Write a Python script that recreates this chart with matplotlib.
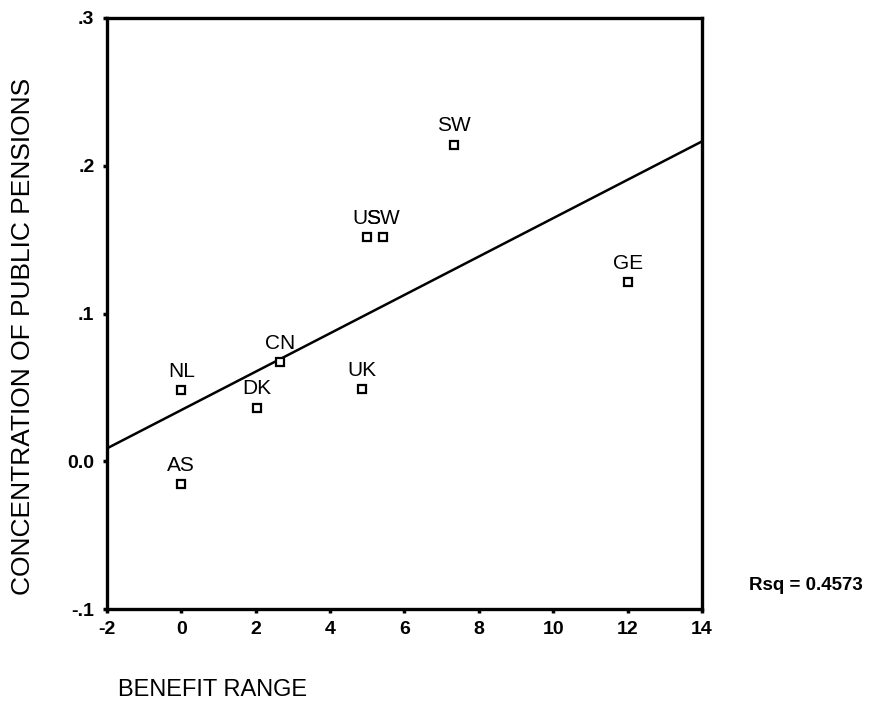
import numpy as np
import matplotlib.pyplot as plt
from matplotlib.ticker import FixedLocator, FixedFormatter

plt.rcParams['font.family'] = ['Liberation Sans', 'DejaVu Sans']
plt.rcParams['axes.unicode_minus'] = False

# ========== data ==========
countries = ['NL', 'AS', 'DK', 'CN', 'UK', 'US', 'SW', 'SW', 'GE']
benefit_range = [0.0, 0.0, 2.03, 2.65, 4.85, 4.99, 5.42, 7.33, 12.0]
concentration = [0.048, -0.0156, 0.0359, 0.067, 0.0487, 0.1516, 0.1516, 0.2139, 0.121]

x_ticks = [-2, 0, 2, 4, 6, 8, 10, 12, 14]
y_ticks = [-0.1, 0.0, 0.1, 0.2, 0.3]
y_tick_labels = ['-.1', '0.0', '.1', '.2', '.3']
rsq_text = 'Rsq = 0.4573'

x = np.array(benefit_range)
y = np.array(concentration)

# least squares fit line
slope, intercept = np.polyfit(x, y, 1)
xx = np.array([-2, 14])

fig = plt.figure(figsize=(8.87, 7.07), dpi=100)
ax = fig.add_axes([107 / 887, 1 - 609 / 707, (702 - 107) / 887, (609 - 18) / 707])

ax.plot(xx, intercept + slope * xx, color='black', linewidth=1.8)
ax.plot(x, y, linestyle='none', marker='s', markersize=5.5,
        markerfacecolor='white', markeredgecolor='black', markeredgewidth=1.6)

for name, xi, yi in zip(countries, x, y):
    ax.annotate(name, (xi, yi), xytext=(0, 7), textcoords='offset points',
                ha='center', va='bottom', fontsize=15)

ax.set_xlim(-2, 14)
ax.set_ylim(-0.1, 0.3)
ax.xaxis.set_major_locator(FixedLocator(x_ticks))
ax.yaxis.set_major_locator(FixedLocator(y_ticks))
ax.yaxis.set_major_formatter(FixedFormatter(y_tick_labels))
ax.tick_params(direction='out', length=3, width=2.5, labelsize=14, pad=6)
for lbl in ax.get_xticklabels() + ax.get_yticklabels():
    lbl.set_fontweight('bold')
for sp in ax.spines.values():
    sp.set_linewidth(2.4)

fig.text(23 / 887, 1 - 336 / 707, 'CONCENTRATION OF PUBLIC PENSIONS',
         rotation=90, ha='center', va='center', fontsize=19)
fig.text(118 / 887, 1 - 690 / 707, 'BENEFIT RANGE', ha='left', va='center', fontsize=17)
fig.text(749 / 887, 1 - 586 / 707, rsq_text, ha='left', va='center',
         fontsize=13.5, fontweight='bold')

fig.savefig('out.png', dpi=100)
